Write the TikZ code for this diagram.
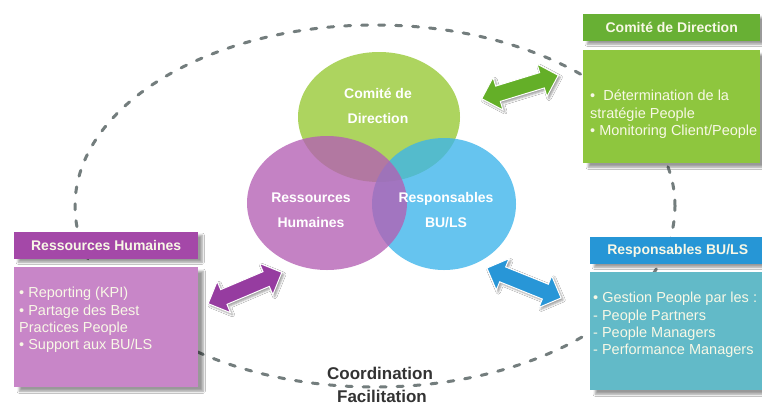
\documentclass[tikz,border=0pt]{standalone}
\usepackage{fontspec}
\setmainfont{Liberation Sans}
\usetikzlibrary{shapes.arrows,shapes.geometric,shadows.blur}
\definecolor{gTitle}{RGB}{104,176,52}
\definecolor{gBody}{RGB}{142,198,62}
\definecolor{bTitle}{RGB}{38,150,214}
\definecolor{bBody}{RGB}{98,186,200}
\definecolor{pTitle}{RGB}{164,72,168}
\definecolor{pBody}{RGB}{200,134,200}
\definecolor{cGreen}{RGB}{150,200,50}
\definecolor{cPurple}{RGB}{180,95,180}
\definecolor{cBlue}{RGB}{60,180,235}
\definecolor{dashcol}{RGB}{115,125,125}
\definecolor{txtlight}{RGB}{248,248,230}
\definecolor{arrGreen}{RGB}{100,175,40}
\definecolor{arrPurple}{RGB}{150,60,160}
\definecolor{arrBlue}{RGB}{40,150,215}
\begin{document}
\begin{tikzpicture}[x=1pt,y=-1pt,
  titlebox/.style={rectangle, anchor=north west, minimum width=#1, minimum height=27pt,
    inner sep=0pt, text=txtlight, font=\fontsize{14}{16}\selectfont\bfseries,
    blur shadow={shadow xshift=4pt, shadow yshift=-3pt, shadow blur steps=6}},
  bodybox/.style={rectangle, anchor=north west, minimum width=#1, inner sep=0pt,
    blur shadow={shadow xshift=5pt, shadow yshift=-4pt, shadow blur steps=6}},
  bodytext/.style={anchor=north west, inner sep=0pt, align=left, text=txtlight,
    font=\fontsize{14.5}{17.4}\selectfont},
  venn/.style={ellipse, fill opacity=0.78, inner sep=0pt},
  venntext/.style={text=white, font=\fontsize{14}{24.5}\selectfont\bfseries, align=center},
  dblarrow/.style={double arrow, draw=white, line width=1pt, minimum height=80pt,
    minimum width=0pt, inner xsep=0pt, inner ysep=7.5pt, double arrow head extend=9pt,
    blur shadow={shadow xshift=2pt, shadow yshift=-2pt, shadow blur steps=4}},
  loop/.style={draw=dashcol, line width=3pt, line cap=round, dash pattern=on 6pt off 11pt},
  looptext/.style={text=black!80, font=\fontsize{17}{19}\selectfont\bfseries}
]
\useasboundingbox (0,0) rectangle (762,405);
\fill[white] (0,0) rectangle (762,405);

% dashed loop
\coordinate (loopc) at (375,206);
\draw[loop] (loopc) ellipse [x radius=300pt, y radius=181pt];

% venn
\node[venn, fill=cGreen, minimum width=162pt, minimum height=130pt] (vg) at (379,117) {};
\node[venn, fill=cBlue, minimum width=144pt, minimum height=132pt] (vb) at (444,204) {};
\node[venn, fill=cPurple, minimum width=160pt, minimum height=134pt] (vp) at (327,203) {};
\node[venntext] (tg) at (378,106) {Comité de\\Direction};
\node[venntext] (tp) at (311,210) {Ressources\\Humaines};
\node[venntext] (tb) at (446,210) {Responsables\\BU/LS};

% boxes
\node[titlebox=177pt, fill=gTitle] (gT) at (583,14) {Comité de Direction};
\node[bodybox=177pt, fill=gBody, minimum height=113pt] (gB) at (583,50) {};
\node[bodytext] (gX) at (590,90) {•\ \ Détermination de la\\stratégie People\\• Monitoring Client/People};

\node[titlebox=175pt, fill=bTitle] (bT) at (590,237) {Responsables BU/LS};
\node[bodybox=175pt, fill=bBody, minimum height=118pt] (bB) at (590,272) {};
\node[bodytext] (bX) at (593,292) {• Gestion People par les :\\- People Partners\\- People Managers\\- Performance Managers};

\node[titlebox=184pt, fill=pTitle] (pT) at (14,232) {Ressources Humaines};
\node[bodybox=184pt, fill=pBody, minimum height=120pt] (pB) at (14,267) {};
\node[bodytext] (pX) at (19,287) {• Reporting (KPI)\\• Partage des Best\\Practices People\\• Support aux BU/LS};

% arrows
\node[dblarrow, fill=arrGreen, rotate=17] (ag) at (520,87) {};
\node[dblarrow, fill=arrPurple, rotate=23] (ap) at (245,288) {};
\node[dblarrow, fill=arrBlue, rotate=-22] (ab) at (524,283) {};

% loop labels
\node[looptext] (lc) at (380,373) {Coordination};
\node[looptext] (lf) at (382,396) {Facilitation};
\end{tikzpicture}
\end{document}
